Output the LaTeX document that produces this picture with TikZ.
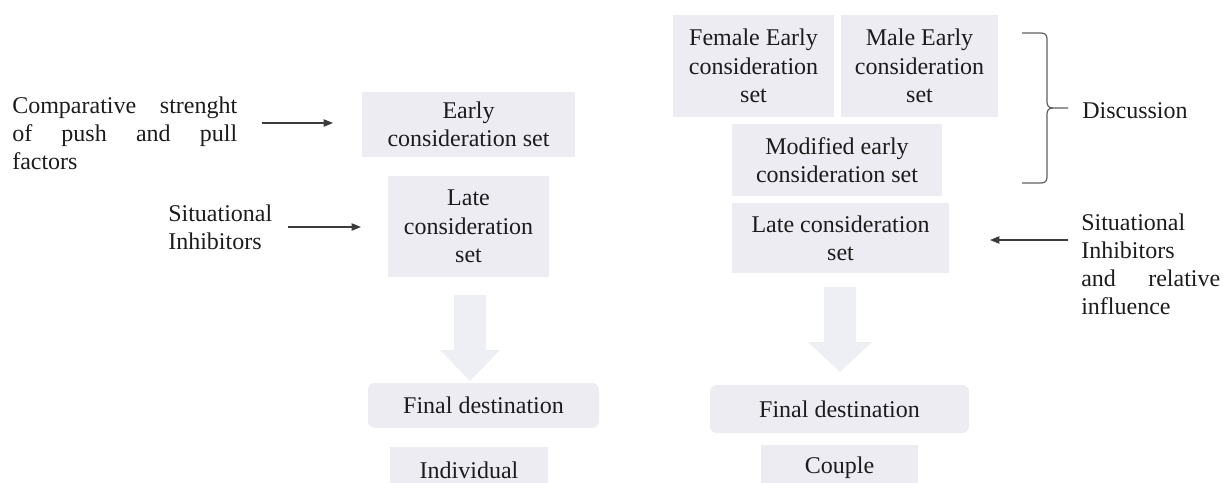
\documentclass[tikz,border=0pt]{standalone}
\usepackage{fontspec}
\setmainfont{LiberationSerif}[Extension=.ttf, UprightFont=*-Regular, BoldFont=*-Bold]
\usetikzlibrary{arrows.meta}
\definecolor{boxfill}{RGB}{237,236,243}
\definecolor{arrowfill}{RGB}{238,238,245}
\definecolor{linegray}{RGB}{60,60,60}
\definecolor{bracegray}{RGB}{95,95,95}
\definecolor{txt}{RGB}{28,28,28}
\begin{document}
\begin{tikzpicture}[x=0.75pt,y=-0.75pt,
  font=\fontsize{18}{21.2}\selectfont, text=txt,
  box/.style={fill=boxfill, draw=none, inner sep=0pt, align=center},
  rbox/.style={box, rounded corners=5pt},
  thinarrow/.style={draw=linegray, line width=0.9pt, -{Triangle[length=7pt,width=5.5pt]}},
  lbl/.style={inner sep=0pt, anchor=base west},
  bracestyle/.style={draw=bracegray, line width=0.9pt}]
\useasboundingbox (0,0) rectangle (1223,482);
\clip (0,0) rectangle (1223,482);

% ---------- left column ----------
\node[box, minimum width=213*0.75pt, minimum height=65*0.75pt] (e1) at (468.5,124.5) {Early\\consideration set};
\node[box, minimum width=161*0.75pt, minimum height=101*0.75pt] (l1) at (468.5,226.5) {Late\\consideration\\set};
\node[rbox, minimum width=231*0.75pt, minimum height=45*0.75pt] (f1) at (483.5,405.5) {Final destination};
\node[box, minimum width=158*0.75pt, minimum height=46*0.75pt] (i1) at (469,470) {Individual};

\fill[arrowfill] (454,295) -- (486,295) -- (486,350) -- (500,350) -- (470,381)
  -- (440,350) -- (454,350) -- cycle;

\node[lbl, text width=168.75pt, align=justify] (cp) at (12,113)
  {Comparative strenght\linebreak of push and pull\linebreak factors};
\node[lbl, text width=80pt, align=left] (si1) at (168,221) {Situational\\Inhibitors};

\coordinate (a1s) at (262,123);
\coordinate (a1e) at (333,123);
\draw[thinarrow] (a1s) -- (a1e);
\coordinate (a2s) at (288,227);
\coordinate (a2e) at (361,227);
\draw[thinarrow] (a2s) -- (a2e);

% ---------- right column ----------
\node[box, minimum width=161*0.75pt, minimum height=102*0.75pt] (fe) at (753.5,66) {Female Early\\consideration\\set};
\node[box, minimum width=157*0.75pt, minimum height=102*0.75pt] (ma) at (919.5,66) {Male Early\\consideration\\set};
\node[box, minimum width=210*0.75pt, minimum height=72*0.75pt] (mo) at (837,160) {Modified early\\consideration set};
\node[box, minimum width=217*0.75pt, minimum height=70*0.75pt] (l2) at (840.5,238) {Late consideration\\set};
\node[rbox, minimum width=259*0.75pt, minimum height=48*0.75pt] (f2) at (839.5,409) {Final destination};
\node[box, minimum width=157*0.75pt, minimum height=46*0.75pt] (c2) at (839.5,468) {Couple};

\fill[arrowfill] (824,287) -- (856,287) -- (856,342) -- (872,342) -- (840,372)
  -- (808,342) -- (824,342) -- cycle;

% brace
\draw[bracestyle] (1022,33) -- (1041,33) .. controls (1045,33) and (1047,35) .. (1047,39)
  -- (1047,102) .. controls (1047,106) and (1049,108) .. (1053,108) -- (1068,108);
\draw[bracestyle] (1053,108) .. controls (1049,108) and (1047,110) .. (1047,114)
  -- (1047,177) .. controls (1047,181) and (1045,183) .. (1041,183) -- (1022,183);
\node[lbl] (disc) at (1082,118) {Discussion};

\node[lbl, text width=104.25pt, align=justify] (si2) at (1081,230)
  {Situational\newline Inhibitors\newline and relative\linebreak influence};
\coordinate (a3s) at (1068,240);
\coordinate (a3e) at (990,240);
\draw[thinarrow] (a3s) -- (a3e);
\end{tikzpicture}
\end{document}
